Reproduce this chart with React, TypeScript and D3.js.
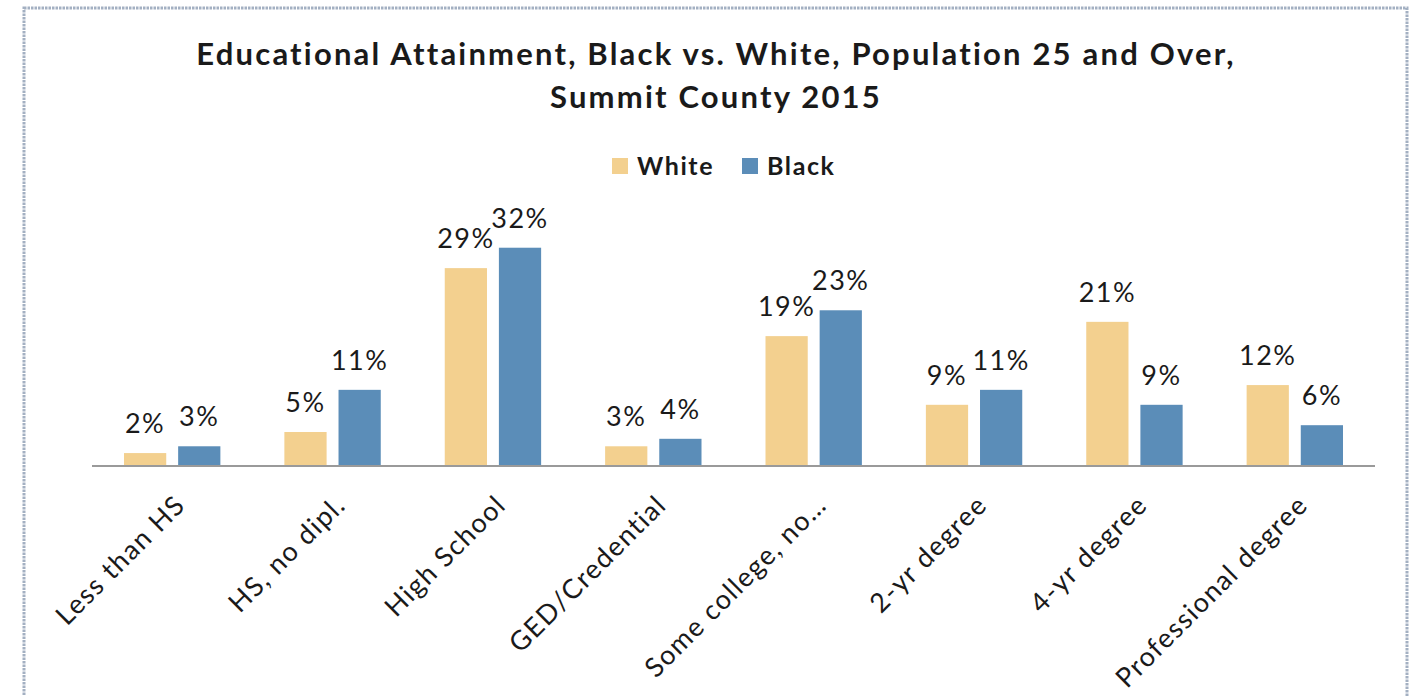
import React from "react";
import * as d3 from "d3";

const categories = [
  "Less than HS",
  "HS, no dipl.",
  "High School",
  "GED/Credential",
  "Some college, no…",
  "2-yr degree",
  "4-yr degree",
  "Professional degree",
];
const seriesNames = ["White", "Black"];
const whiteValues = [0.019, 0.05, 0.291, 0.029, 0.191, 0.09, 0.212, 0.119];
const blackValues = [0.029, 0.112, 0.321, 0.04, 0.229, 0.112, 0.09, 0.06];
const colors = ["#F3D08F", "#5B8DB8"];
const titleLines = [
  "Educational Attainment, Black vs. White, Population 25 and Over,",
  "Summit County 2015",
];

const W = 1413;
const H = 696;
const FONT = "Lato, 'Open Sans', 'DejaVu Sans', sans-serif";

export default function App() {
  const x0 = d3.scaleBand<string>().domain(categories).range([92, 1375]).paddingInner(0).paddingOuter(0);
  const x1 = d3
    .scaleBand<string>()
    .domain(seriesNames)
    .range([32, x0.bandwidth() - 32])
    .paddingInner(0.22);
  const y = d3.scaleLinear().domain([0, 0.35]).range([466, 466 - 0.35 * 680]);
  const fmt = (v: number) => `${Math.round(v * 100)}%`;
  const series = [whiteValues, blackValues];

  return (
    <svg
      width={W}
      height={H}
      style={{ position: "absolute", left: 0, top: 0, background: "#fff" }}
      fontFamily={FONT}
    >
      <rect x={24} y={8} width={1383} height={700} fill="#fff" stroke="#a3b0c2" strokeWidth={3} strokeDasharray="2.5 1" />
      {titleLines.map((t, i) => (
        <text
          key={i}
          x={716}
          y={65 + i * 43}
          textAnchor="middle"
          fontSize={31}
          fontWeight={700}
          letterSpacing={2.2}
          fill="#1a1a1a"
        >
          {t}
        </text>
      ))}
      {/* legend */}
      {seriesNames.map((s, i) => {
        const lx = i === 0 ? 612 : 742;
        return (
          <g key={s}>
            <rect x={lx} y={158} width={16} height={16} fill={colors[i]} />
            <text x={lx + 25} y={175} fontSize={25} fontWeight={700} letterSpacing={1.6} fill="#1a1a1a">
              {s}
            </text>
          </g>
        );
      })}
      {/* bars */}
      {categories.map((c, ci) => (
        <g key={c} transform={`translate(${x0(c)},0)`}>
          {seriesNames.map((s, si) => {
            const v = series[si][ci];
            const bx = x1(s)!;
            return (
              <g key={s}>
                <rect x={bx} y={y(v)} width={x1.bandwidth()} height={y(0) - y(v)} fill={colors[si]} />
                <text
                  x={bx + x1.bandwidth() / 2}
                  y={y(v) - 20}
                  textAnchor="middle"
                  fontSize={27}
                  letterSpacing={1.5}
                  fill="#1a1a1a"
                >
                  {fmt(v)}
                </text>
              </g>
            );
          })}
        </g>
      ))}
      <line x1={92} x2={1375} y1={y(0)} y2={y(0)} stroke="#9a9a9a" strokeWidth={2} />
      {/* category labels */}
      {categories.map((c) => {
        const cx = x0(c)! + x0.bandwidth() / 2 + 8;
        const cy = 500;
        return (
          <text
            key={c}
            transform={`translate(${cx},${cy}) rotate(-45)`}
            textAnchor="end"
            fontSize={27}
            letterSpacing={1.4}
            fill="#1a1a1a"
            dy="0.35em"
          >
            {c}
          </text>
        );
      })}
    </svg>
  );
}
